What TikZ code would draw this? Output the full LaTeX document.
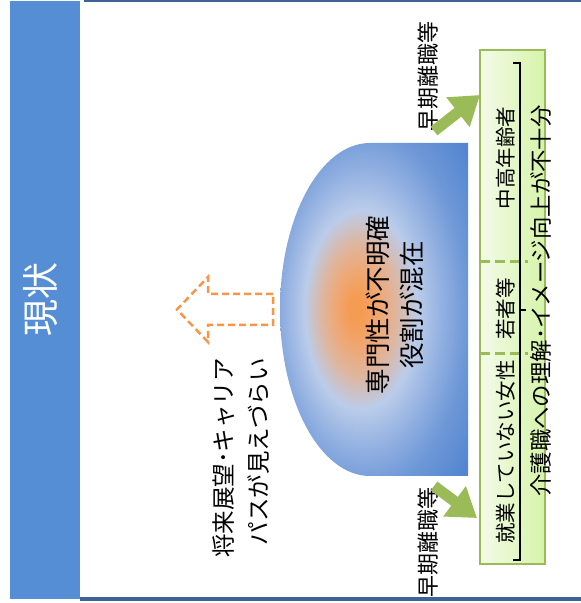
\documentclass[tikz,border=0pt]{standalone}
\usepackage{fontspec}
\setmainfont{Noto Sans CJK JP}
\usetikzlibrary{arrows.meta}
\definecolor{barblue}{RGB}{85,142,213}
\definecolor{lineblue}{RGB}{60,98,150}
\definecolor{grn}{RGB}{155,187,89}
\definecolor{boxL}{RGB}{243,251,232}
\definecolor{boxR}{RGB}{214,244,170}
\definecolor{org}{RGB}{247,150,70}
\definecolor{dome0}{RGB}{245,156,84}
\definecolor{domeA}{RGB}{238,168,118}
\definecolor{dome1}{RGB}{222,182,160}
\definecolor{dome2}{RGB}{186,204,234}
\definecolor{dome3}{RGB}{146,176,225}
\definecolor{dome4}{RGB}{110,152,215}
\definecolor{dome5}{RGB}{84,134,208}
\pgfdeclareradialshading{domeshade}{\pgfpoint{-5bp}{0bp}}{color(0bp)=(dome0); color(2bp)=(dome0); color(6bp)=(domeA); color(10bp)=(dome1); color(15bp)=(dome2); color(21bp)=(dome3); color(27bp)=(dome4); color(35bp)=(dome5); color(50bp)=(dome5)}
\begin{document}
\begin{tikzpicture}[x=1pt,y=1pt,
  vtext/.style={rotate=90, text=black, inner sep=0pt},
  grnarrow/.style={grn, line width=11pt, -{Triangle[length=28pt,width=36pt]}},
  cat/.style={vtext, font=\fontsize{20.5}{24}\selectfont}]
\useasboundingbox (0,0) rectangle (581,603);
\fill[white] (0,0) rectangle (581,603);
% left bar
\fill[barblue] (10,4) rectangle (80,602);
\node[vtext, text=white, font=\fontsize{37}{40}\selectfont] (genjo) at (41,303) {現状};
% frame lines
\draw[lineblue, line width=2.5pt] (84,601.8) -- (581,601.8);
\draw[lineblue, line width=3.5pt] (80,4) -- (581,4);
% dome
\shade[shading=domeshade] (468,460) -- (370,460) arc[start angle=90, end angle=270, x radius=90, y radius=166.5] -- (468,127) -- cycle;
\node[vtext, font=\fontsize{25.5}{34}\selectfont, align=center] (senmon) at (395,298) {専門性が不明確\\役割が混在};
% dashed orange arrow
\draw[org, line width=2.5pt, dash pattern=on 7pt off 4pt] (273,309) -- (208,309) -- (208,326) -- (177,293.5) -- (208,261) -- (208,278) -- (273,278) -- cycle;
\node[vtext, font=\fontsize{23.5}{35}\selectfont, align=right, anchor=east] (career) at (241.5,245) {将来展望･キャリア\\パスが見えづらい};
% green box
\node[draw=grn, line width=2pt, left color=boxL, right color=boxR, minimum width=65pt, minimum height=514pt, inner sep=0pt] (box) at (512.5,296) {};
\draw[grn, line width=3pt, dash pattern=on 10pt off 5pt] (480,341) -- (528,341);
\draw[grn, line width=3pt, dash pattern=on 10pt off 5pt] (480,249) -- (528,249);
\draw[black, line width=1.8pt] (513,540) -- (520,540) -- (520,43) -- (513,43);
\draw[black, line width=1.8pt] (520,293) -- (526,293);
\node[cat] (chuko) at (506,445) {中高年齢者};
\node[cat] (wakamono) at (506,294) {若者等};
\node[cat] (josei) at (506,151) {就業していない女性};
\node[vtext, font=\fontsize{22.4}{26}\selectfont] (kaigo) at (541,302) {介護職への理解･イメージ向上が不十分};
% early-leaving labels and arrows
\node[vtext, font=\fontsize{22}{26}\selectfont] (soki1) at (428,526) {早期離職等};
\node[vtext, font=\fontsize{22}{26}\selectfont] (soki2) at (428,61) {早期離職等};
\coordinate (a1s) at (434,472);
\coordinate (a1e) at (480,508);
\coordinate (a2s) at (434,117);
\coordinate (a2e) at (477,85);
\draw[grnarrow] (a1s) -- (a1e);
\draw[grnarrow] (a2s) -- (a2e);
\end{tikzpicture}
\end{document}
